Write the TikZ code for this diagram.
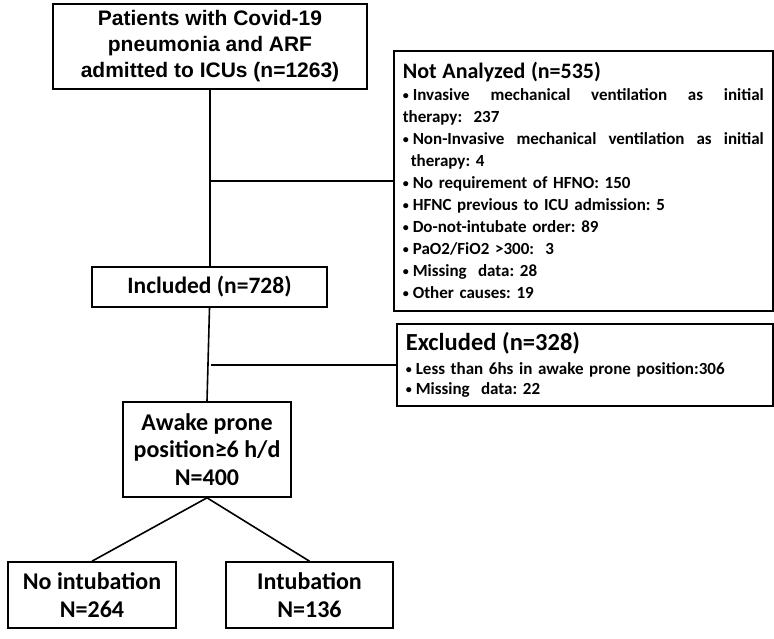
\documentclass[tikz,border=0pt]{standalone}
\usepackage{fontspec}
\setmainfont{Carlito}
\newfontfamily\arialfont{Liberation Sans}
\usetikzlibrary{positioning}
\frenchspacing

\newcommand{\itm}{\raisebox{1pt}{\fontsize{12}{12}\selectfont\textbullet}\hspace{4pt}}
\newcommand{\boxtitle}{\fontsize{22}{22}\selectfont}

\begin{document}
\begin{tikzpicture}[x=1pt, y=-1pt, line width=1.6pt,
  every node/.style={font=\bfseries},
  flowbox/.style={draw, align=center, inner sep=2pt,
    font=\bfseries\fontsize{24}{27.5}\selectfont},
  listbox/.style={draw, anchor=north west, align=left, inner xsep=9pt,
    font=\bfseries\fontsize{17}{22}\selectfont}]
  \useasboundingbox (0,0) rectangle (774,638);

  \node[flowbox, minimum width=314pt, minimum height=85pt,
    font=\arialfont\bfseries\fontsize{21}{26}\selectfont] (top) at (210,46.5)
    {Patients with Covid-19\\pneumonia and ARF\\admitted to ICUs (n=1263)};
  \node[listbox, text width=361pt, minimum height=260pt] (notan) at (393,50)
    {{\boxtitle Not Analyzed (n=535)}\\
     \itm Invasive\hfill mechanical\hfill ventilation\hfill as\hfill initial\\
     therapy:~ 237\\
     \itm Non-Invasive\hfill mechanical\hfill ventilation\hfill as\hfill initial\\
     \hspace{8pt}therapy: 4\\
     \itm No requirement of HFNO: 150\\
     \itm HFNC previous to ICU admission: 5\\
     \itm Do-not-intubate order: 89\\
     \itm PaO2/FiO2 >300:~ 3\\
     \itm Missing~ data: 28\\
     \itm Other causes: 19};
  \node[flowbox, minimum width=235pt, minimum height=40pt,
    font=\bfseries\fontsize{23.5}{26}\selectfont] (incl) at (209.5,287)
    {Included (n=728)};
  \node[listbox, text width=358pt, minimum height=82pt,
    font=\bfseries\fontsize{17}{20}\selectfont] (excl) at (396,323)
    {{\fontsize{24.5}{24}\selectfont Excluded (n=328)}\\[4pt]
     \itm Less than 6hs in awake prone position:306\\
     \itm Missing~ data: 22};
  \node[flowbox, minimum width=168pt, minimum height=95pt] (awake) at (207,449.5)
    {Awake prone\\position≥6 h/d\\N=400};
  \node[flowbox, minimum width=168pt, minimum height=66pt] (noint) at (92,595)
    {No intubation\\N=264};
  \node[flowbox, minimum width=167pt, minimum height=66pt] (intub) at (309.5,595)
    {Intubation\\N=136};

  \draw (top.south) -- (top.south |- incl.north);
  \draw (notan.west) -- (notan.west -| top.south);
  \draw (incl.south) -- (awake.north);
  \draw (excl.west) -- ++(-185,0);
  \draw (awake.south) -- (noint.north);
  \draw (awake.south) -- (intub.north);
\end{tikzpicture}
\end{document}
